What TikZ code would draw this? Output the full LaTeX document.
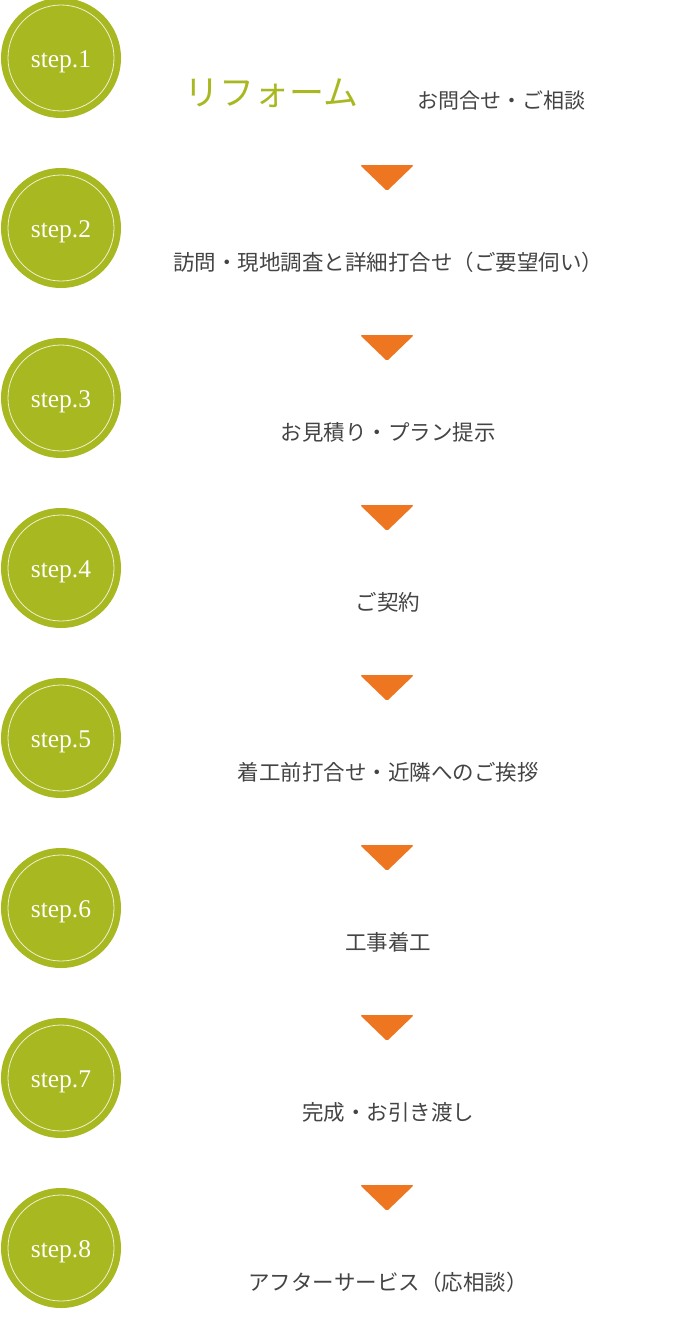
\documentclass[tikz,border=0pt]{standalone}
\usepackage{fontspec}
\usetikzlibrary{calc}
\newfontfamily\jp{Noto Sans CJK JP}
\newfontfamily\stepfont{Liberation Serif}
\definecolor{stepgreen}{HTML}{A8B820}
\definecolor{arroworange}{HTML}{EE7620}
\definecolor{textgrey}{HTML}{444444}
\tikzset{
  stepcircle/.style={circle, fill=stepgreen, minimum size=120pt, inner sep=0pt,
    text=white, font=\stepfont\fontsize{25.5}{25.5}\selectfont,
    text height=24pt, text depth=5.5pt},
  stepring/.style={draw=white!80!stepgreen, line width=0.8pt},
  steplabel/.style={text=textgrey, font=\jp\fontsize{21.5}{21.5}\selectfont, inner sep=0pt},
  downarrow/.style={fill=arroworange, rounded corners=1.5pt}
}
\begin{document}
\begin{tikzpicture}[x=1pt,y=-1pt]
      % page
      \useasboundingbox (0,0) rectangle (695,1327);
      \fill[white] (0,0) rectangle (695,1327);
      % step circles
      \foreach \n in {1,...,8}{
        \node[stepcircle] (c\n) at (61,{58+170*(\n-1)}) {step.\n};
        \draw[stepring] (c\n.center) circle (53pt);
      }
      % first step
      \node[anchor=west, inner sep=0pt, text=stepgreen, font=\jp\fontsize{35}{35}\selectfont] (reform) at (184,93) {リフォーム};
      \node[steplabel, anchor=west, font=\jp\fontsize{21}{21}\selectfont] (l1) at (417,100) {お問合せ・ご相談};
      % other steps
      \foreach \n/\txt in {2/訪問・現地調査と詳細打合せ（ご要望伺い）, 3/お見積り・プラン提示, 4/ご契約,
          5/着工前打合せ・近隣へのご挨拶, 6/工事着工, 7/完成・お引き渡し, 8/アフターサービス（応相談）}{
        \node[steplabel] (l\n) at (388,{262+170*(\n-2)}) {\txt};
        \coordinate (a\n) at (387,{165+170*(\n-2)});
        \fill[downarrow] ($(a\n)+(-27,0)$) -- ($(a\n)+(27,0)$) -- ($(a\n)+(0,26)$) -- cycle;
      }
\end{tikzpicture}
\end{document}
